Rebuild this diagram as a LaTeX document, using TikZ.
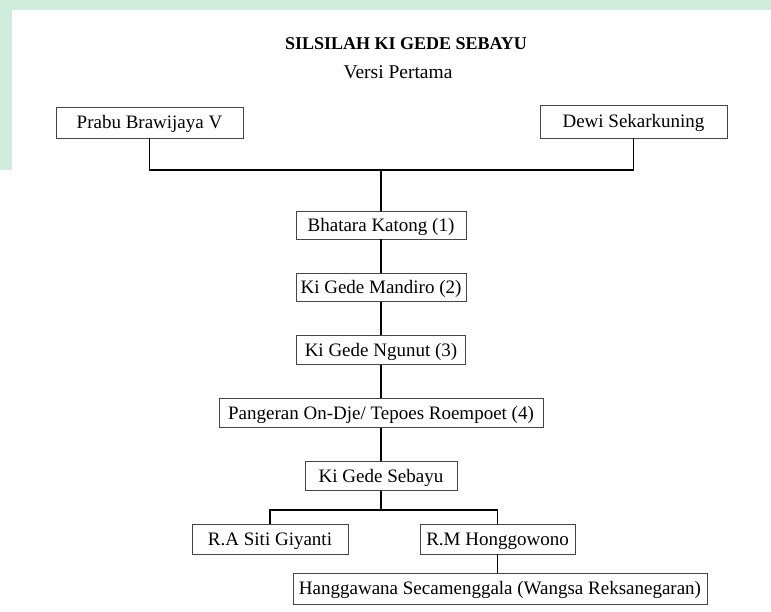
\documentclass[tikz,border=0pt]{standalone}
\usepackage{fontspec}
\setmainfont{Liberation Serif}
\usepackage{xcolor}
\usetikzlibrary{positioning}
\definecolor{PageGreen}{RGB}{207,236,220}
\definecolor{BoxGray}{RGB}{70,70,70}

\begin{document}
\begin{tikzpicture}[
    x=1pt, y=-1pt,
    node distance=33.5pt,
    person/.style={draw=BoxGray, line width=0.7pt, inner sep=0pt, text height=12.6pt, text depth=0pt, minimum height=29pt, font=\fontsize{19}{22}\selectfont},
    link/.style={line width=1.2pt, draw=black}
  ]
    \useasboundingbox (0,0) rectangle (771,611);
    \fill[PageGreen] (0,0) rectangle (771,10);
    \fill[PageGreen] (0,0) rectangle (12,170);
    \node[font=\fontsize{18}{21}\selectfont\bfseries] (title) at (406,44) {SILSILAH KI GEDE SEBAYU};
    \node[font=\fontsize{19.5}{22}\selectfont] (versi) at (398,72) {Versi Pertama};
    \node[person, minimum width=187pt, minimum height=31pt] (prabu) at (149.5,122.5) {Prabu Brawijaya V};
    \node[person, minimum width=187pt, minimum height=33pt] (dewi) at (633.5,121.5) {Dewi Sekarkuning};
    \coordinate (junc) at (381,170);
    \node[person, minimum width=170pt, minimum height=28pt] (bhatara) at (381,225) {Bhatara Katong (1)};
    \node[person, minimum width=170pt, minimum height=28pt, below=of bhatara] (mandiro) {Ki Gede Mandiro (2)};
    \node[person, minimum width=169pt, below=of mandiro] (ngunut) {Ki Gede Ngunut (3)};
    \node[person, minimum width=324pt, below=of ngunut] (pangeran) {Pangeran On-Dje/ Tepoes Roempoet (4)};
    \node[person, minimum width=152pt, below=of pangeran] (sebayu) {Ki Gede Sebayu};
    \coordinate (bar) at (381,510);
    \node[person, minimum width=156pt, minimum height=30pt] (giyanti) at (270,539) {R.A Siti Giyanti};
    \node[person, minimum width=155pt, minimum height=30pt] (honggo) at (497.5,539) {R.M Honggowono};
    \node[person, minimum width=414pt, minimum height=31pt] (hangga) at (500,588.5) {Hanggawana Secamenggala (Wangsa Reksanegaran)};
    \draw[link] (prabu.south) |- (junc) -| (dewi.south);
    \draw[link] (junc) -- (bhatara);
    \draw[link] (bhatara) -- (mandiro);
    \draw[link] (mandiro) -- (ngunut);
    \draw[link] (ngunut) -- (pangeran);
    \draw[link] (pangeran) -- (sebayu);
    \draw[link] (sebayu) -- (bar);
    \draw[link] (giyanti.north) |- (bar) -| (honggo.north);
    \draw[link] (honggo.south) -- (honggo.south |- hangga.north);
  \end{tikzpicture}
\end{document}
